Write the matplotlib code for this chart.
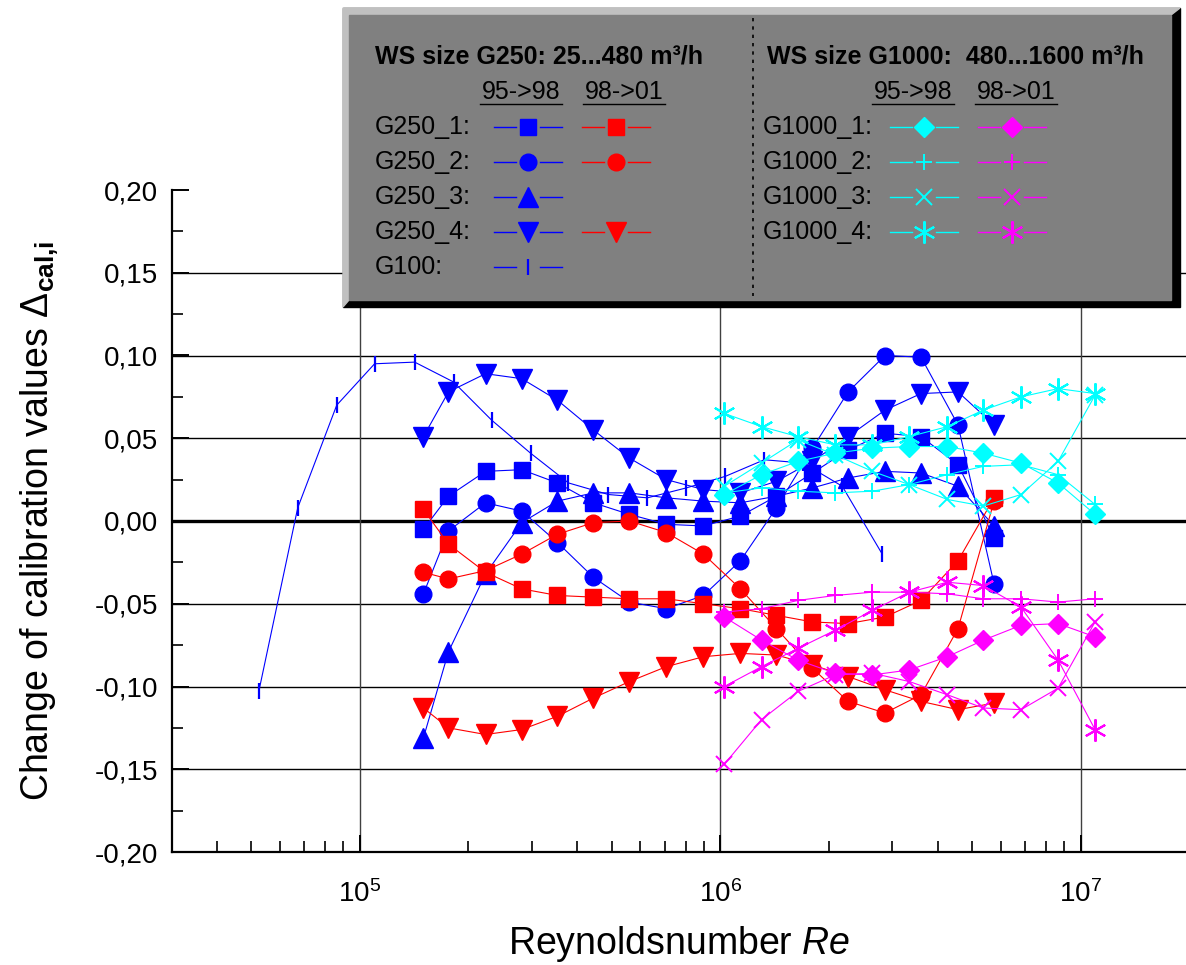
import numpy as np
import matplotlib
matplotlib.use('Agg')
import matplotlib.pyplot as plt
from matplotlib.patches import Rectangle, Polygon
from matplotlib.ticker import LogLocator, MultipleLocator, FuncFormatter, NullFormatter

plt.rcParams['font.family'] = ['Liberation Sans', 'DejaVu Sans']
plt.rcParams['mathtext.fontset'] = 'custom'
plt.rcParams['mathtext.rm'] = 'Liberation Sans'
plt.rcParams['mathtext.it'] = 'Liberation Sans:italic'
plt.rcParams['mathtext.bf'] = 'Liberation Sans:bold'

# Reynolds numbers of the measuring points
re_g250 = [1.50e5, 1.76e5, 2.23e5, 2.81e5, 3.53e5, 4.44e5, 5.59e5, 7.08e5, 8.97e5,
           1.136e6, 1.43e6, 1.80e6, 2.26e6, 2.86e6, 3.60e6, 4.56e6, 5.74e6]
re_g1000 = [1.025e6, 1.30e6, 1.64e6, 2.08e6, 2.64e6, 3.34e6, 4.26e6, 5.36e6,
            6.82e6, 8.64e6, 1.094e7]
re_g100 = [5.24e4, 6.72e4, 8.62e4, 1.098e5, 1.418e5, 1.818e5, 2.317e5, 2.972e5, 3.788e5,
           4.89e5, 6.27e5, 8.04e5, 1.032e6, 1.323e6, 1.697e6, 2.177e6, 2.81e6]

# G250, 95->98 (blue) and 98->01 (red)
g250_1_a = [-0.005, 0.015, 0.030, 0.031, 0.023, 0.011, 0.004, -0.002, -0.003, 0.003,
            0.015, 0.029, 0.043, 0.053, 0.051, 0.034, -0.010]
g250_1_b = [0.007, -0.014, -0.031, -0.041, -0.045, -0.046, -0.047, -0.047, -0.050, -0.053,
            -0.057, -0.061, -0.062, -0.058, -0.048, -0.024, 0.014]
g250_2_a = [-0.044, -0.006, 0.011, 0.006, -0.013, -0.034, -0.049, -0.053, -0.045, -0.024,
            0.008, 0.044, 0.078, 0.100, 0.099, 0.058, -0.038]
g250_2_b = [-0.031, -0.035, -0.030, -0.020, -0.008, -0.001, 0.000, -0.007, -0.020, -0.041,
            -0.065, -0.089, -0.109, -0.116, -0.105, -0.065, 0.012]
g250_3_a = [-0.131, -0.079, -0.032, -0.001, 0.012, 0.017, 0.017, 0.014, 0.012, 0.011,
            0.015, 0.020, 0.026, 0.030, 0.029, 0.021, -0.003]
g250_4_a = [0.051, 0.078, 0.089, 0.086, 0.073, 0.055, 0.038, 0.025, 0.019, 0.017,
            0.024, 0.036, 0.051, 0.067, 0.077, 0.078, 0.058]
g250_4_b = [-0.113, -0.125, -0.129, -0.126, -0.118, -0.107, -0.097, -0.088, -0.082, -0.080,
            -0.081, -0.087, -0.094, -0.102, -0.109, -0.114, -0.110]
g100 = [-0.103, 0.008, 0.070, 0.095, 0.096, 0.084, 0.061, 0.041, 0.023, 0.016,
        0.014, 0.020, 0.027, 0.037, 0.035, 0.021, -0.020]

# G1000, 95->98 (cyan) and 98->01 (magenta)
g1000_1_a = [0.016, 0.028, 0.036, 0.041, 0.044, 0.045, 0.045, 0.041, 0.035, 0.023, 0.004]
g1000_2_a = [0.017, 0.020, 0.018, 0.017, 0.018, 0.022, 0.028, 0.033, 0.034, 0.028, 0.010]
g1000_3_a = [0.021, 0.035, 0.049, 0.040, 0.030, 0.022, 0.013, 0.009, 0.016, 0.036, 0.076]
g1000_4_a = [0.065, 0.057, 0.051, 0.046, 0.046, 0.051, 0.057, 0.067, 0.075, 0.080, 0.077]
g1000_1_b = [-0.058, -0.072, -0.084, -0.092, -0.093, -0.090, -0.082, -0.072, -0.063, -0.062, -0.070]
g1000_2_b = [-0.055, -0.053, -0.048, -0.045, -0.043, -0.043, -0.044, -0.047, -0.047, -0.049, -0.047]
g1000_3_b = [-0.147, -0.120, -0.103, -0.093, -0.092, -0.097, -0.105, -0.113, -0.114, -0.101, -0.061]
g1000_4_b = [-0.100, -0.088, -0.077, -0.066, -0.054, -0.043, -0.037, -0.039, -0.052, -0.084, -0.126]

BLUE, RED, CYAN, MAG = '#0000ff', '#ff0000', '#00ffff', '#ff00ff'
STAR = (6, 2, 0)

# marker style table: marker -> (size, edge width)
MS = {'s': (11.5, 1), 'o': (12, 1), '^': (14, 1), 'v': (14, 1), 'D': (10, 1),
      '+': (11, 1.4), 'x': (11, 1.4), '|': (12, 1.6), STAR: (16, 1.5)}

W, H = 1186, 965
fig = plt.figure(figsize=(W / 100, H / 100), dpi=100)
ax = fig.add_axes([172 / W, 1 - 852 / H, (W - 172) / W, (852 - 190) / H])

# grid
for yv in [-0.15, -0.10, -0.05, 0.05, 0.10, 0.15]:
    ax.axhline(yv, color='black', lw=1, zorder=1)
ax.axhline(0, color='black', lw=2.4, zorder=1)
for xv in [1e5, 1e6, 1e7]:
    ax.axvline(xv, color='#404040', lw=1, zorder=1)


def series(x, y, c, m):
    ms, mew = MS[m]
    ax.plot(x, y, color=c, lw=0.8, marker=m, ms=ms, mew=mew, mec=c, mfc=c, zorder=3)


series(re_g100, g100, BLUE, '|')
series(re_g250, g250_1_a, BLUE, 's')
series(re_g250, g250_2_a, BLUE, 'o')
series(re_g250, g250_3_a, BLUE, '^')
series(re_g250, g250_4_a, BLUE, 'v')
series(re_g250, g250_1_b, RED, 's')
series(re_g250, g250_2_b, RED, 'o')
series(re_g250, g250_4_b, RED, 'v')
series(re_g1000, g1000_1_a, CYAN, 'D')
series(re_g1000, g1000_2_a, CYAN, '+')
series(re_g1000, g1000_3_a, CYAN, 'x')
series(re_g1000, g1000_4_a, CYAN, STAR)
series(re_g1000, g1000_1_b, MAG, 'D')
series(re_g1000, g1000_2_b, MAG, '+')
series(re_g1000, g1000_3_b, MAG, 'x')
series(re_g1000, g1000_4_b, MAG, STAR)

ax.set_xscale('log')
ax.set_xlim(3.01e4, 1.956e7)
ax.set_ylim(-0.20, 0.20)
ax.set_xticks([1e5, 1e6, 1e7])
ax.set_xticklabels(['$10^5$', '$10^6$', '$10^7$'])
ax.xaxis.set_minor_locator(LogLocator(base=10, subs=np.arange(2, 10)))
ax.xaxis.set_minor_formatter(NullFormatter())
ax.yaxis.set_major_locator(MultipleLocator(0.05))
ax.yaxis.set_minor_locator(MultipleLocator(0.025))
ax.yaxis.set_major_formatter(FuncFormatter(lambda v, p: f'{v:.2f}'.replace('.', ',')))
ax.tick_params(which='major', direction='in', length=12, width=1.4, labelsize=20, color='black')
ax.tick_params(which='minor', direction='in', length=8, width=1.2)
ax.tick_params(axis='x', pad=20)
ax.tick_params(axis='y', pad=10)
for s in ['top', 'right']:
    ax.spines[s].set_visible(False)
for s in ['left', 'bottom']:
    ax.spines[s].set_linewidth(1.6)
ax.set_xlabel('Reynoldsnumber $Re$', fontsize=27, labelpad=12)
ax.set_ylabel('Change of calibration values $\\Delta_{\\mathbf{cal{,}i}}$', fontsize=27, labelpad=24)

# legend box drawn in pixel coordinates
lax = fig.add_axes([0, 0, 1, 1])
lax.set_xlim(0, W)
lax.set_ylim(H, 0)
lax.axis('off')
lax.add_patch(Rectangle((343, 8), 1180 - 343, 307 - 8, color='black', zorder=1))
lax.add_patch(Polygon([(343, 8), (1180, 8), (1171, 15), (349, 15), (349, 300), (343, 307)],
                      closed=True, color='#c0c0c0', zorder=2))
lax.add_patch(Rectangle((349, 15), 1171 - 349, 300 - 15, color='#808080', zorder=3))
lax.plot([753, 753], [18, 296], color='black', ls=(0, (2, 3)), lw=1.2, zorder=4)

fs = 18
lax.text(375, 57, 'WS size G250: 25...480 m³/h', fontsize=fs, fontweight='bold',
         va='center', ha='left', zorder=5)
lax.text(767, 57, 'WS size G1000:  480...1600 m³/h', fontsize=fs, fontweight='bold',
         va='center', ha='left', zorder=5)
for xc, txt in [(521, '95->98'), (624, '98->01'), (913, '95->98'), (1016, '98->01')]:
    lax.text(xc, 92, txt, fontsize=fs, ha='center', va='center', zorder=5)
    lax.plot([xc - 41, xc + 41], [104, 104], color='black', lw=1, zorder=5)

rows_y = [127, 162, 197, 232, 267]


def legend_entry(xc, yc, c, m):
    ms, mew = MS[m]
    gap = 12
    lax.plot([xc - 34, xc - gap], [yc, yc], color=c, lw=1, zorder=5)
    lax.plot([xc + gap, xc + 34], [yc, yc], color=c, lw=1, zorder=5)
    lax.plot([xc], [yc], ls='none', marker=m, ms=ms, mew=mew, mec=c, mfc=c, zorder=6)


left_rows = [('G250_1:', 's', 's'), ('G250_2:', 'o', 'o'), ('G250_3:', '^', None),
             ('G250_4:', 'v', 'v'), ('G100:', '|', None)]
for yc, (lab, ma, mb) in zip(rows_y, left_rows):
    lax.text(375, yc, lab, fontsize=fs, va='center', ha='left', zorder=5)
    legend_entry(528, yc, BLUE, ma)
    if mb:
        legend_entry(616, yc, RED, mb)

right_rows = [('G1000_1:', 'D'), ('G1000_2:', '+'), ('G1000_3:', 'x'), ('G1000_4:', STAR)]
for yc, (lab, m) in zip(rows_y, right_rows):
    lax.text(763, yc, lab, fontsize=fs, va='center', ha='left', zorder=5)
    legend_entry(924, yc, CYAN, m)
    legend_entry(1012, yc, MAG, m)

fig.savefig('out.png', dpi=100)
